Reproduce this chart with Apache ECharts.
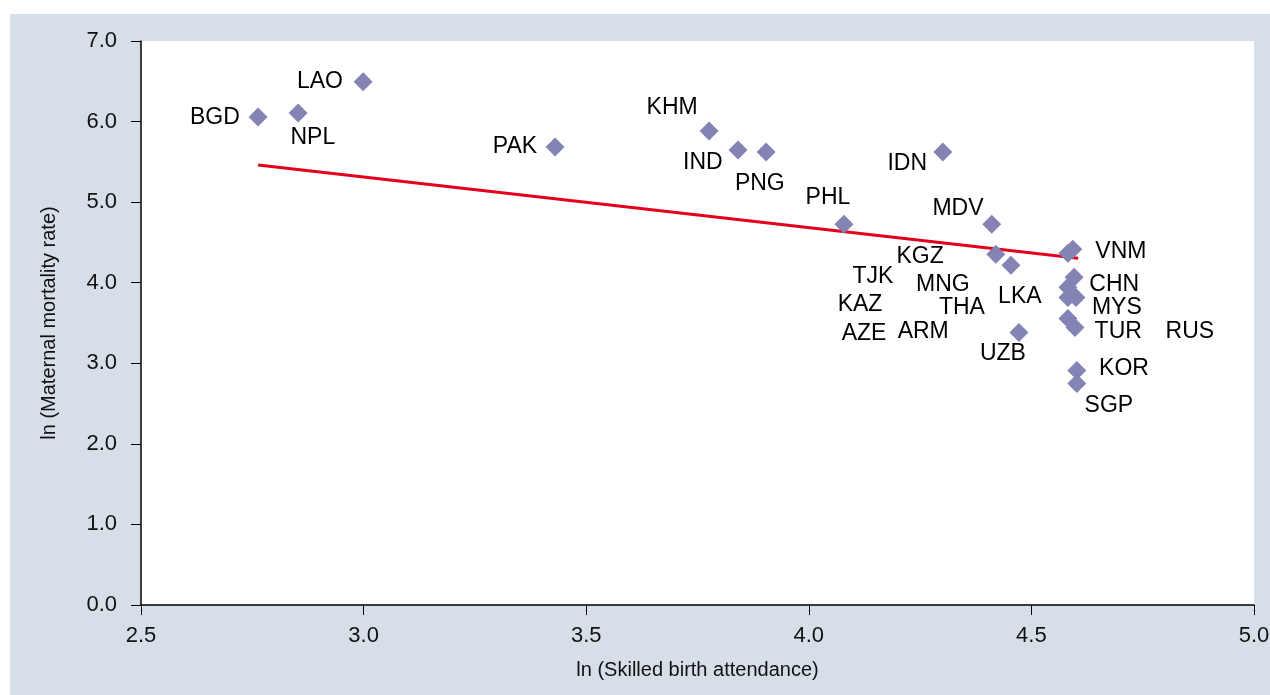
<!DOCTYPE html>
<html>
<head>
<meta charset="utf-8">
<script src="https://cdn.jsdelivr.net/npm/echarts@6/dist/echarts.min.js"></script>
<style>
    html, body { margin: 0; padding: 0; background: #fff; }
    #chart { position: absolute; left: 10px; top: 14px; width: 1260px; height: 681px; }
</style>
</head>
<body>
<div id="chart"></div>
<script>
// ln(SBA), ln(MMR) for each country marker
var ptX = [2.763, 2.853, 2.999, 3.430, 3.776, 3.841, 3.904, 4.301, 4.079, 4.411,
    4.420, 4.454, 4.472, 4.582, 4.593, 4.596, 4.582, 4.582, 4.600, 4.582, 4.598, 4.602, 4.602];
var ptY = [6.057, 6.107, 6.493, 5.684, 5.883, 5.647, 5.622, 5.622, 4.726, 4.726,
    4.353, 4.216, 3.383, 4.366, 4.415, 4.067, 3.943, 3.818, 3.818, 3.557, 3.445, 2.910, 2.749];

// country codes and where the text sits (data units)
var lblName = ['LAO', 'BGD', 'NPL', 'PAK', 'KHM', 'IND', 'PNG', 'IDN', 'PHL', 'MDV',
    'VNM', 'KGZ', 'TJK', 'MNG', 'CHN', 'KAZ', 'THA', 'LKA', 'MYS', 'AZE',
    'ARM', 'TUR', 'RUS', 'UZB', 'KOR', 'SGP'];
var lblX = [2.902, 2.666, 2.886, 3.340, 3.693, 3.762, 3.890, 4.221, 4.043, 4.335,
    4.701, 4.250, 4.144, 4.301, 4.686, 4.115, 4.344, 4.474, 4.692, 4.124,
    4.257, 4.695, 4.856, 4.436, 4.708, 4.674];
var lblY = [6.493, 6.045, 5.796, 5.684, 6.169, 5.485, 5.224, 5.473, 5.050, 4.925,
    4.391, 4.328, 4.080, 3.980, 3.980, 3.731, 3.694, 3.831, 3.694, 3.371,
    3.396, 3.396, 3.396, 3.122, 2.935, 2.475];

// linear trend
var trendX = [2.763, 4.605];
var trendY = [5.460, 4.303];

var font = 'Liberation Sans, Arial, sans-serif';

var pts = ptX.map(function (x, i) { return [x, ptY[i]]; });
var lbls = lblName.map(function (n, i) { return [lblX[i], lblY[i], n]; });
var trend = trendX.map(function (x, i) { return [x, trendY[i]]; });

var chart = echarts.init(document.getElementById('chart'));
chart.setOption({
    backgroundColor: '#d6dee7',
    animation: false,
    grid: {
        left: 131, top: 27, right: 16, bottom: 90,
        outerBoundsMode: 'none',
        show: true, backgroundColor: '#ffffff', borderWidth: 0
    },
    xAxis: {
        type: 'value', min: 2.5, max: 5.0, interval: 0.5,
        name: 'ln (Skilled birth attendance)',
        nameLocation: 'middle', nameGap: 55,
        nameTextStyle: { color: '#111', fontSize: 20, fontFamily: font },
        axisLine: { lineStyle: { color: '#000', width: 1.5 } },
        axisTick: { show: true, length: 10, lineStyle: { color: '#000' } },
        axisLabel: { color: '#111', fontSize: 22, fontFamily: font, margin: 20,
            formatter: function (v) { return v.toFixed(1); } },
        splitLine: { show: false }
    },
    yAxis: {
        type: 'value', min: 0, max: 7, interval: 1,
        name: 'ln (Maternal mortality rate)',
        nameLocation: 'middle', nameGap: 82, nameRotate: 90,
        nameTextStyle: { color: '#111', fontSize: 20, fontFamily: font },
        axisLine: { show: true, lineStyle: { color: '#000', width: 1.5 } },
        axisTick: { show: true, length: 10, lineStyle: { color: '#000' } },
        axisLabel: { color: '#111', fontSize: 22, fontFamily: font, margin: 24,
            formatter: function (v) { return v.toFixed(1); } },
        splitLine: { show: false }
    },
    series: [
        {
            type: 'line', data: trend, symbol: 'none', z: 2,
            lineStyle: { color: '#e2001a', width: 3 }
        },
        {
            type: 'scatter', data: pts, symbol: 'diamond', symbolSize: 19, z: 3,
            itemStyle: { color: '#8383b4', opacity: 1 }
        },
        {
            type: 'scatter', data: lbls, symbolSize: 1, z: 4, silent: true,
            itemStyle: { color: '#fff', opacity: 1 },
            label: {
                show: true, position: 'inside', color: '#000',
                textBorderWidth: 0, opacity: 1,
                fontSize: 23, fontFamily: font,
                formatter: function (p) { return p.value[2]; }
            }
        }
    ]
});
</script>
</body>
</html>
